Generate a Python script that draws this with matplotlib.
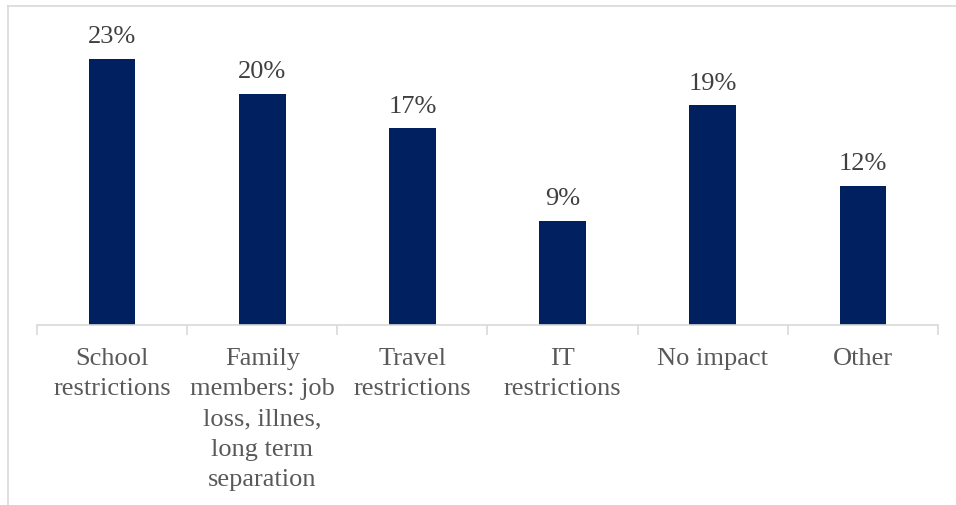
import matplotlib
matplotlib.use("Agg")
import matplotlib.pyplot as plt
from matplotlib.lines import Line2D
import numpy as np

categories = ["School\nrestrictions",
              "Family\nmembers: job\nloss, illnes,\nlong term\nseparation",
              "Travel\nrestrictions",
              "IT\nrestrictions",
              "No impact",
              "Other"]
values = [23, 20, 17, 9, 19, 12]
value_labels = ["23%", "20%", "17%", "9%", "19%", "12%"]

plt.rcParams['font.family'] = ['Liberation Serif', 'DejaVu Serif']

fig = plt.figure(figsize=(9.56, 5.06), dpi=100)
ax = fig.add_axes([37/956, 180/506, (938-37)/956, (469-180)/506])

x = np.arange(len(categories))
bars = ax.bar(x, values, width=0.31, color="#002060")
ax.set_xlim(-0.5, len(categories)-0.5)
ax.set_ylim(0, 25)

for xi, v, lab in zip(x, values, value_labels):
    ax.annotate(lab, (xi, v), xytext=(0, 8.5), textcoords="offset points",
                ha="center", va="bottom", fontsize=19, color="#404040")

ax.set_xticks(x)
ax.set_xticklabels(categories, fontsize=19, color="#595959", linespacing=1.48)
ax.set_xticks(np.arange(-0.5, len(categories)), minor=True)
ax.tick_params(axis="x", which="major", length=0, pad=16)
ax.tick_params(axis="x", which="minor", length=7, width=1.2, color="#D9D9D9")
ax.set_yticks([])
for s in ["top", "right", "left"]:
    ax.spines[s].set_visible(False)
ax.spines["bottom"].set_color("#D9D9D9")
ax.spines["bottom"].set_linewidth(1.2)

# outer chart border (top and left visible)
fig.add_artist(Line2D([8/956, 1.0], [1-7/506, 1-7/506], transform=fig.transFigure,
                      color="#D9D9D9", lw=1.2))
fig.add_artist(Line2D([8/956, 8/956], [0, 1-7/506], transform=fig.transFigure,
                      color="#D9D9D9", lw=1.2))

fig.savefig("out.png", dpi=100, facecolor="white")
